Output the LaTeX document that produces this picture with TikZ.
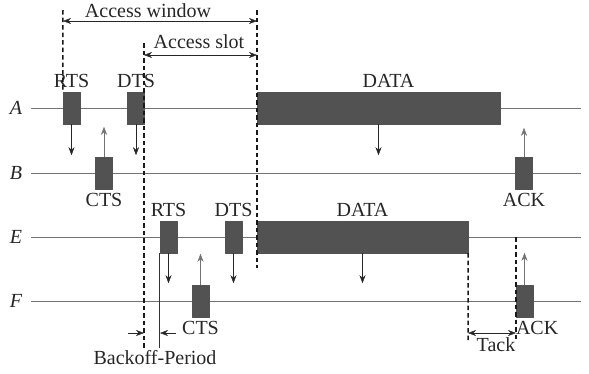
\documentclass[tikz,border=0pt]{standalone}
\usepackage{fontspec}
\setmainfont{Liberation Serif}
\usetikzlibrary{positioning,arrows.meta}
\tikzset{
  frm/.style={fill=black!68, draw=black!68, minimum width=17pt, minimum height=32pt, inner sep=0pt},
  lane/.style={black!55, line width=1pt},
  vdash/.style={black!90, line width=1.5pt, dash pattern=on 4.5pt off 3pt},
  lbl/.style={inner sep=0pt, text=black!85},
}
\begin{document}
\begin{tikzpicture}[x=1pt, y=-1pt, font=\fontsize{20}{23}\selectfont, line join=round, >={Stealth[length=8pt,width=6pt]}]
    \useasboundingbox (0,0) rectangle (589,373);
    % time lines
    \foreach \n/\y in {A/108, B/173, E/237, F/301}{
        \node[lbl] (l\n) at (16,\y) {\textit{\n}};
        \coordinate (e\n) at (581,\y);
        \draw[lane, shorten <=9pt] (l\n) -- (e\n);
    }
    % frames
    \node[frm] (rA) at (71.5,108) {};
    \node[frm] (dA) at (136,108) {};
    \node[frm, minimum width=243pt] (xA) at (378.5,108) {};
    \node[frm] (cB) at (104,173) {};
    \node[frm] (kB) at (524,173) {};
    \node[frm] (rE) at (168.5,237) {};
    \node[frm] (dE) at (233.5,237) {};
    \node[frm, minimum width=211pt] (xE) at (362.5,237) {};
    \node[frm] (cF) at (200.5,301) {};
    \node[frm] (kF) at (524.5,301) {};
    \node[lbl, above=4pt of rA] {RTS};
    \node[lbl, above=4pt of dA] {DTS};
    \node[lbl, above=4pt of xA, xshift=10pt] {DATA};
    \node[lbl, below=4pt of cB] {CTS};
    \node[lbl, below=4pt of kB] {ACK};
    \node[lbl, above=4pt of rE] {RTS};
    \node[lbl, above=4pt of dE] {DTS};
    \node[lbl, above=4pt of xE] {DATA};
    \node[lbl, below=4pt of cF] {CTS};
    \node[lbl, anchor=north west] at ([yshift=-4pt]kF.south west) {ACK};
    % signalling
    \draw[->, black!85] (rA.south) -- ++(0,31);
    \draw[->, black!85] (dA.south) -- ++(0,31);
    \draw[->, black!85] (xA.south) -- ++(0,31);
    \draw[->, black!55] (cB.north) -- ++(0,-30);
    \draw[->, black!55] (kB.north) -- ++(0,-29);
    \draw[->, black!85] (rE.south) -- ++(0,30);
    \draw[->, black!85] (dE.south) -- ++(0,30);
    \draw[->, black!85] (xE.south) -- ++(0,30);
    \draw[->, black!55] (cF.north) -- ++(0,-31);
    \draw[->, black!55] (kF.north) -- ++(0,-32);
    % access window and slot
    \coordinate (w1) at (63,10);
    \coordinate (w2) at (257,10);
    \coordinate (w3) at (257,268);
    \coordinate (s1) at (144,43);
    \coordinate (s2) at (144,348);
    \draw[vdash] (w1) -- (rA.north west);
    \draw[vdash] (w2) -- (w3);
    \draw[vdash] (s1) -- (s2);
    \draw[<->, black!85] (63,21) -- (257,21);
    \draw[<->, black!85] (144,55) -- (257,55);
    \node[lbl, anchor=base] (aw) at (148,17) {Access window};
    \node[lbl, anchor=base] (as) at (199,48) {Access slot};
    % backoff
    \draw[black!80, line width=1.2pt] (rE.south west) -- ++(0,95);
    \draw[->, black!85] (128,333) -- (144,333);
    \draw[->, black!85] (176,333) -- (160,333);
    \node[lbl, anchor=base] (bo) at (155,364) {Backoff-Period};
    % tack
    \coordinate (t1) at (468,340);
    \coordinate (t2) at (516,237);
    \coordinate (t3) at (516,340);
    \draw[vdash] (xE.south east) -- (t1);
    \draw[vdash] (t2) -- (t3);
    \draw[<->, black!85] (468,333) -- (516,333);
    \node[lbl, anchor=base] (tk) at (496,351) {Tack};
\end{tikzpicture}
\end{document}
